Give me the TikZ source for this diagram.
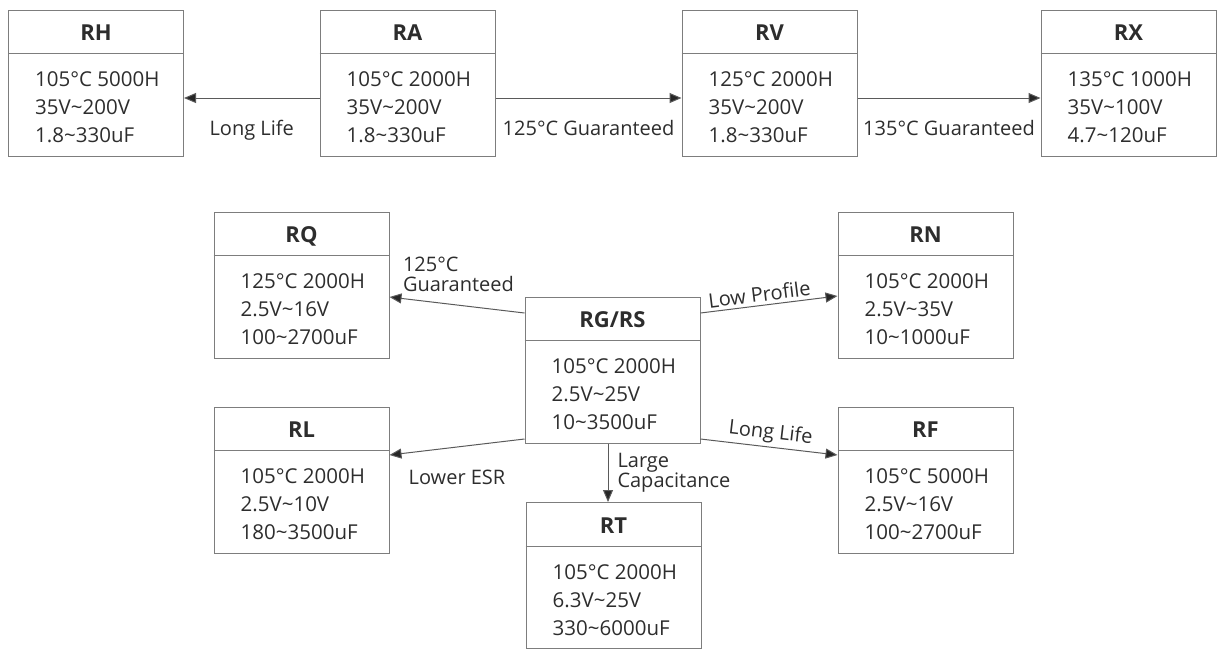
\documentclass[tikz,border=0pt]{standalone}
\usepackage{fontspec}
\setmainfont{Open Sans}
\usetikzlibrary{arrows.meta}
\definecolor{boxgray}{RGB}{125,125,125}
\definecolor{linegray}{RGB}{90,90,90}
\definecolor{txt}{RGB}{45,45,45}
\newcommand\tild{\char"007E\relax}
\newcommand\capbox[7]{%
  \node[box] (#1) at (#2,#3) {};
  \draw[draw=boxgray, line width=1pt] ([yshift=-44pt]#1.north west) -- ([yshift=-44pt]#1.north east);
  \node[ttl] (#1-t) at ([yshift=-31pt]#1.north) {#4};
  \node[bodyt] (#1-a) at ([xshift=27pt,yshift=-77pt]#1.north west) {#5};
  \node[bodyt] (#1-b) at ([xshift=27pt,yshift=-105pt]#1.north west) {#6};
  \node[bodyt] (#1-c) at ([xshift=27pt,yshift=-133pt]#1.north west) {#7};
}
\begin{document}
\begin{tikzpicture}[x=1pt,y=-1pt,
  box/.style={draw=boxgray, line width=1pt, minimum width=175pt, minimum height=146pt, inner sep=0pt},
  ttl/.style={font=\fontsize{22}{26}\selectfont\bfseries, text=txt, anchor=base, inner sep=0pt},
  bodyt/.style={font=\fontsize{20.5}{24}\selectfont, text=txt, anchor=base west, inner sep=0pt},
  lbl/.style={font=\fontsize{20}{20}\selectfont, text=txt, inner sep=0pt},
  arr/.style={draw=linegray, line width=1pt, -{Triangle[length=12pt,width=10pt,fill=black!85]}}]
\useasboundingbox (0,0) rectangle (1217,649);

\capbox{RH}{96}{83}{RH}{105°C 5000H}{35V\tild200V}{1.8\tild330uF}
\capbox{RA}{407.5}{83}{RA}{105°C 2000H}{35V\tild200V}{1.8\tild330uF}
\capbox{RV}{769.5}{83}{RV}{125°C 2000H}{35V\tild200V}{1.8\tild330uF}
\capbox{RX}{1128.5}{83}{RX}{135°C 1000H}{35V\tild100V}{4.7\tild120uF}

\capbox{RQ}{301.5}{285}{RQ}{125°C 2000H}{2.5V\tild16V}{100\tild2700uF}
\capbox{RN}{925.5}{285}{RN}{105°C 2000H}{2.5V\tild35V}{10\tild1000uF}
\capbox{RG}{612.5}{370}{RG/RS}{105°C 2000H}{2.5V\tild25V}{10\tild3500uF}
\capbox{RL}{301.5}{480}{RL}{105°C 2000H}{2.5V\tild10V}{180\tild3500uF}
\capbox{RF}{925.5}{480}{RF}{105°C 5000H}{2.5V\tild16V}{100\tild2700uF}
\capbox{RT}{613.5}{575.5}{RT}{105°C 2000H}{6.3V\tild25V}{330\tild6000uF}

% top row connectors
\draw[arr] ([yshift=-15pt]RA.west) -- node[lbl, anchor=base, yshift=-37pt]{Long Life} ([yshift=-15pt]RH.east);
\draw[arr] ([yshift=-15pt]RA.east) -- node[lbl, anchor=base, yshift=-37pt]{125°C Guaranteed} ([yshift=-15pt]RV.west);
\draw[arr] ([yshift=-15pt]RV.east) -- node[lbl, anchor=base, yshift=-37pt]{135°C Guaranteed} ([yshift=-15pt]RX.west);

% bottom connectors
\draw[arr] ([yshift=57pt]RG.west) -- ([yshift=-12pt]RQ.east)
  node[lbl, anchor=south west, xshift=13pt, yshift=5pt, align=left]{125°C\\Guaranteed};
\draw[arr] ([yshift=57pt]RG.east) -- node[lbl, pos=0.44, sloped, above=3pt]{Low Profile} ([yshift=-11pt]RN.west);
\draw[arr] ([yshift=-69pt]RG.west) -- node[lbl, anchor=base, yshift=-37pt]{Lower ESR} ([yshift=25pt]RL.east);
\draw[arr] ([yshift=-69pt]RG.east) -- node[lbl, pos=0.5, sloped, above=3pt]{Long Life} ([yshift=25pt]RF.west);
\coordinate (gt) at ([xshift=-4.5pt]RG.south);
\draw[arr] (gt) -- node[lbl, anchor=west, xshift=9pt, align=left]{Large\\Capacitance} (gt |- RT.north);
\end{tikzpicture}
\end{document}
